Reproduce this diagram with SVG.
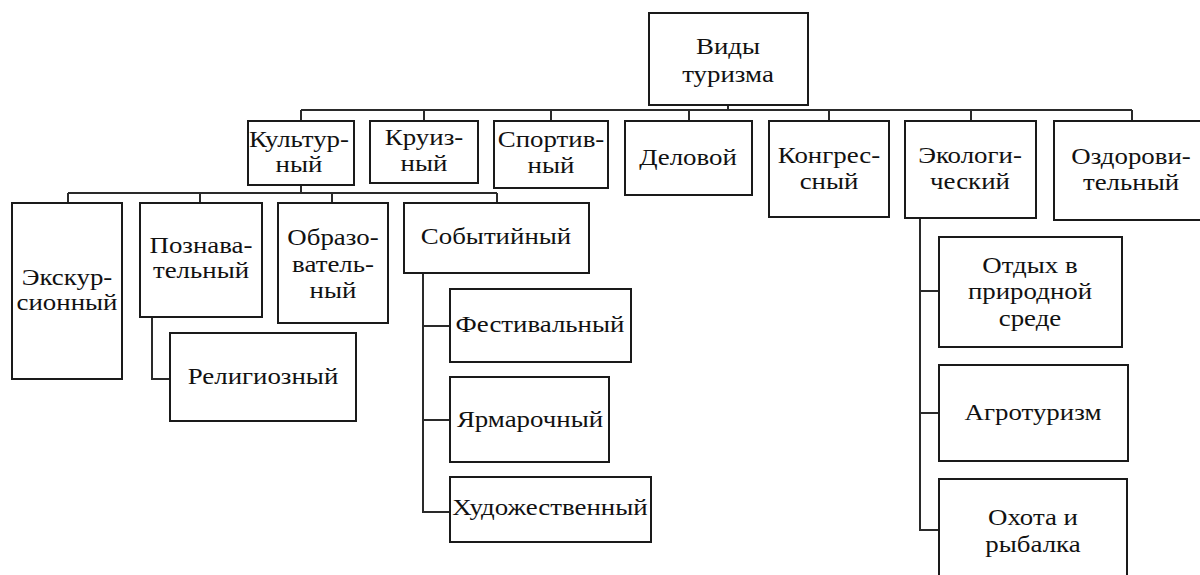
<svg xmlns="http://www.w3.org/2000/svg" width="1200" height="575" viewBox="0 0 1200 575">
<style>
.box{fill:#fff;stroke:#1a1a1a;stroke-width:2}
.c{fill:none;stroke:#2a2a2a;stroke-width:2}
text{font-family:"Liberation Serif","Times New Roman",serif;font-size:24px;fill:#111;text-anchor:middle}
</style>
<rect width="1200" height="575" fill="#fff"/>
<g id="connectors">
<path class="c" d="M728 105V110M301 110H1132M301 110V121M424 110V121M551 110V121M689 110V121M829 110V121M971 110V121M1132 110V121"/>
<path class="c" d="M301 185V193M68 193H497M68 193V203M200 193V203M332 193V203M497 193V203"/>
<path class="c" d="M152 317V379H170"/>
<path class="c" d="M423 273V512H450M423 326H450M423 420H450"/>
<path class="c" d="M920 218V530H939M920 291H939M920 413H939"/>
</g>
<g id="root"><rect class="box" x="649" y="13" width="159" height="92"/><text transform="matrix(1.12 0 0 1 728 0)"><tspan x="0" y="54">Виды</tspan><tspan x="0" y="82">туризма</tspan></text></g>
<g id="kult"><rect class="box" x="248" y="121" width="106" height="64"/><text transform="matrix(1.12 0 0 1 299 0)"><tspan x="0" y="147">Культур-</tspan><tspan x="0" y="172">ный</tspan></text></g>
<g id="kruiz"><rect class="box" x="370" y="121" width="108" height="62"/><text transform="matrix(1.12 0 0 1 424 0)"><tspan x="0" y="145">Круиз-</tspan><tspan x="0" y="171">ный</tspan></text></g>
<g id="sport"><rect class="box" x="494" y="121" width="114" height="67"/><text transform="matrix(1.12 0 0 1 551 0)"><tspan x="0" y="147">Спортив-</tspan><tspan x="0" y="173">ный</tspan></text></g>
<g id="delovoi"><rect class="box" x="625" y="121" width="127" height="74"/><text transform="matrix(1.12 0 0 1 688 0)"><tspan x="0" y="165">Деловой</tspan></text></g>
<g id="kongress"><rect class="box" x="769" y="121" width="120" height="96"/><text transform="matrix(1.12 0 0 1 829 0)"><tspan x="0" y="163">Конгрес-</tspan><tspan x="0" y="189">сный</tspan></text></g>
<g id="ekolog"><rect class="box" x="905" y="121" width="131" height="97"/><text transform="matrix(1.12 0 0 1 970 0)"><tspan x="0" y="163">Экологи-</tspan><tspan x="0" y="189">ческий</tspan></text></g>
<g id="ozdorov"><rect class="box" x="1054" y="121" width="160" height="99"/><text transform="matrix(1.12 0 0 1 1131 0)"><tspan x="0" y="164">Оздорови-</tspan><tspan x="0" y="190">тельный</tspan></text></g>
<g id="ekskurs"><rect class="box" x="12" y="203" width="110" height="176"/><text transform="matrix(1.12 0 0 1 67 0)"><tspan x="0" y="285">Экскур-</tspan><tspan x="0" y="310">сионный</tspan></text></g>
<g id="poznav"><rect class="box" x="140" y="203" width="122" height="114"/><text transform="matrix(1.12 0 0 1 201 0)"><tspan x="0" y="253">Познава-</tspan><tspan x="0" y="278">тельный</tspan></text></g>
<g id="obraz"><rect class="box" x="278" y="203" width="110" height="120"/><text transform="matrix(1.12 0 0 1 333 0)"><tspan x="0" y="245">Образо-</tspan><tspan x="0" y="272">ватель-</tspan><tspan x="0" y="298">ный</tspan></text></g>
<g id="relig"><rect class="box" x="170" y="333" width="186" height="88"/><text transform="matrix(1.12 0 0 1 263 0)"><tspan x="0" y="384">Религиозный</tspan></text></g>
<g id="sobyt"><rect class="box" x="404" y="203" width="185" height="70"/><text transform="matrix(1.12 0 0 1 496 0)"><tspan x="0" y="244">Событийный</tspan></text></g>
<g id="festiv"><rect class="box" x="450" y="289" width="181" height="73"/><text transform="matrix(1.12 0 0 1 540 0)"><tspan x="0" y="332">Фестивальный</tspan></text></g>
<g id="yarmar"><rect class="box" x="450" y="377" width="159" height="85"/><text transform="matrix(1.12 0 0 1 530 0)"><tspan x="0" y="427">Ярмарочный</tspan></text></g>
<g id="hudozh"><rect class="box" x="450" y="477" width="201" height="65"/><text transform="matrix(1.12 0 0 1 550 0)"><tspan x="0" y="515">Художественный</tspan></text></g>
<g id="otdyh"><rect class="box" x="939" y="237" width="183" height="110"/><text transform="matrix(1.12 0 0 1 1030 0)"><tspan x="0" y="273">Отдых в</tspan><tspan x="0" y="299">природной</tspan><tspan x="0" y="326">среде</tspan></text></g>
<g id="agro"><rect class="box" x="939" y="365" width="189" height="96"/><text transform="matrix(1.12 0 0 1 1033 0)"><tspan x="0" y="420">Агротуризм</tspan></text></g>
<g id="ohota"><rect class="box" x="939" y="479" width="188" height="110"/><text transform="matrix(1.12 0 0 1 1033 0)"><tspan x="0" y="525">Охота и</tspan><tspan x="0" y="552">рыбалка</tspan></text></g>
</svg>
